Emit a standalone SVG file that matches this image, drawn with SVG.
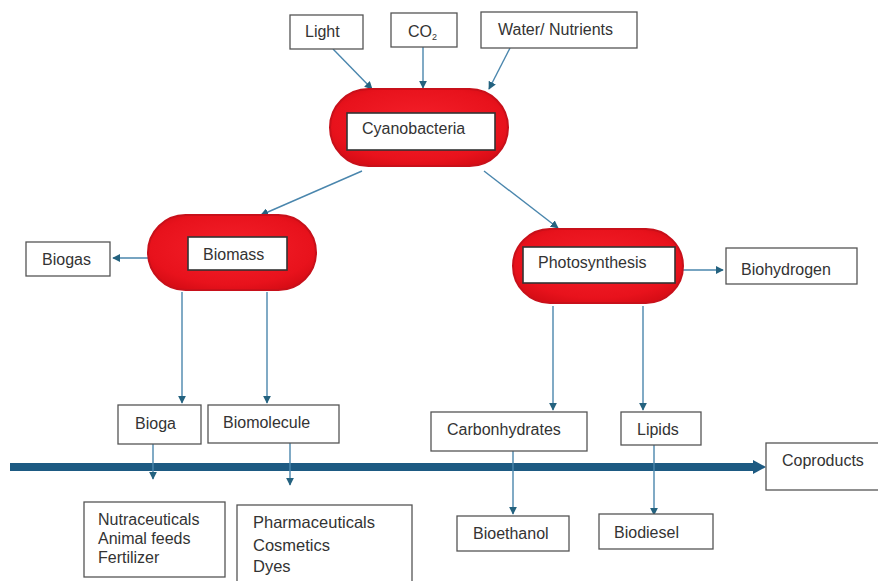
<svg xmlns="http://www.w3.org/2000/svg" width="878" height="581" viewBox="0 0 878 581">
<style>
.box{fill:#fff;stroke:#555;stroke-width:1.3}
.inner{fill:#fff;stroke:#333;stroke-width:1.6}
.pill{fill:url(#redg);stroke:#c8101a;stroke-width:2}
.t{font-family:"Liberation Sans",Arial,sans-serif;font-size:16px;fill:#333}
.t2{font-family:"Liberation Sans",Arial,sans-serif;font-size:16.5px;fill:#333}
.c{stroke:#4a86ad;stroke-width:1.4;fill:none;marker-end:url(#ah)}
</style>
<defs>
<radialGradient id="redg" cx="50%" cy="45%" r="60%">
<stop offset="0" stop-color="#f5202a"/>
<stop offset="0.8" stop-color="#e8121c"/>
<stop offset="1" stop-color="#d80d16"/>
</radialGradient>
<marker id="ah" viewBox="0 0 10 10" refX="9" refY="5" markerWidth="8" markerHeight="8" markerUnits="userSpaceOnUse" orient="auto">
<path d="M0,0 L10,5 L0,10 Z" fill="#24627f"/>
</marker>
</defs>
<rect width="878" height="581" fill="#fff"/>

<g id="connectors">
<line class="c" x1="333" y1="49" x2="372" y2="89"/>
<line class="c" x1="423" y1="47" x2="423" y2="88"/>
<line class="c" x1="510" y1="48" x2="489" y2="89"/>
<line class="c" x1="362" y1="171" x2="261" y2="215"/>
<line class="c" x1="484" y1="171" x2="558" y2="228"/>
<line class="c" x1="148" y1="258" x2="113" y2="258"/>
<line class="c" x1="683" y1="270" x2="723" y2="270"/>
<line class="c" x1="182" y1="292" x2="182" y2="403"/>
<line class="c" x1="267" y1="292" x2="267" y2="403"/>
<line class="c" x1="553" y1="306" x2="553" y2="410"/>
<line class="c" x1="643" y1="306" x2="643" y2="410"/>
<line x1="10" y1="467" x2="757" y2="467" stroke="#1d5a82" stroke-width="8"/>
<path d="M753,460 L766,467 L753,474 Z" fill="#1d5a82"/>
<line class="c" x1="153" y1="444" x2="153" y2="479"/>
<line class="c" x1="290" y1="443" x2="290" y2="485"/>
<line class="c" x1="513" y1="451" x2="513" y2="514"/>
<line class="c" x1="654" y1="445" x2="654" y2="515"/>
</g>

<g id="light"><rect class="box" x="290" y="15" width="73" height="34"/><text class="t" x="305" y="37">Light</text></g>
<g id="co2"><rect class="box" x="391" y="13" width="66" height="34"/><text class="t" x="408" y="37">CO<tspan font-size="9" dy="3">2</tspan></text></g>
<g id="water"><rect class="box" x="481" y="12" width="156" height="36"/><text class="t" x="498" y="35">Water/ Nutrients</text></g>

<g id="cyanobacteria"><rect class="pill" x="330" y="89" width="178" height="77" rx="38.5"/><rect class="inner" x="347" y="113" width="148" height="37"/><text class="t" x="362" y="134">Cyanobacteria</text></g>

<g id="biomass"><rect class="pill" x="148" y="215" width="168" height="75" rx="37.5"/><rect class="inner" x="188" y="237" width="99" height="33"/><text class="t" x="203" y="260">Biomass</text></g>
<g id="biogas"><rect class="box" x="26" y="242" width="84" height="34"/><text class="t" x="42" y="265">Biogas</text></g>

<g id="photosynthesis"><rect class="pill" x="513" y="229" width="170" height="74" rx="37"/><rect class="inner" x="523" y="247" width="152" height="36"/><text class="t" x="538" y="268">Photosynthesis</text></g>
<g id="biohydrogen"><rect class="box" x="726" y="248" width="131" height="36"/><text class="t" x="741" y="275">Biohydrogen</text></g>

<g id="bioga"><rect class="box" x="118" y="405" width="83" height="39"/><text class="t" x="135" y="429">Bioga</text></g>
<g id="biomolecule"><rect class="box" x="208" y="405" width="131" height="38"/><text class="t" x="223" y="428">Biomolecule</text></g>
<g id="carbonhydrates"><rect class="box" x="431" y="412" width="156" height="39"/><text class="t" x="447" y="435">Carbonhydrates</text></g>
<g id="lipids"><rect class="box" x="621" y="412" width="80" height="33"/><text class="t" x="637" y="435">Lipids</text></g>
<g id="coproducts"><rect class="box" x="766" y="443" width="120" height="47"/><text class="t" x="782" y="466">Coproducts</text></g>

<g id="nutraceuticals"><rect class="box" x="84" y="502" width="141" height="75"/><text class="t" x="98" y="525">Nutraceuticals</text><text class="t" x="98" y="544">Animal feeds</text><text class="t" x="98" y="563">Fertilizer</text></g>
<g id="pharmaceuticals"><rect class="box" x="237" y="505" width="175" height="80"/><text class="t2" x="253" y="528">Pharmaceuticals</text><text class="t2" x="253" y="551">Cosmetics</text><text class="t2" x="253" y="572">Dyes</text></g>
<g id="bioethanol"><rect class="box" x="457" y="516" width="112" height="35"/><text class="t" x="473" y="539">Bioethanol</text></g>
<g id="biodiesel"><rect class="box" x="599" y="514" width="114" height="35"/><text class="t" x="614" y="538">Biodiesel</text></g>
</svg>
